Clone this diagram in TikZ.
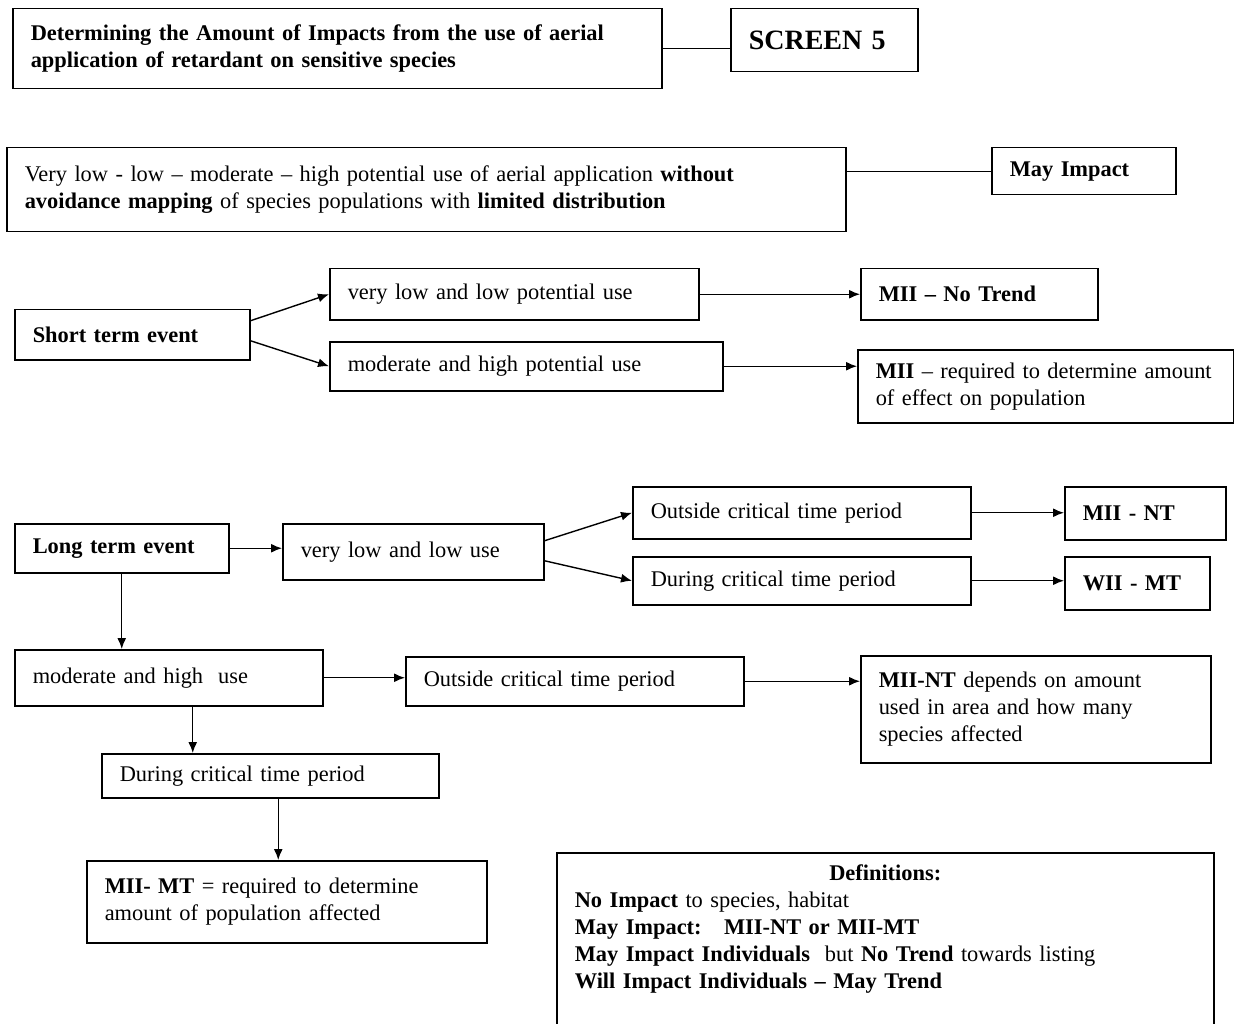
\documentclass[tikz,border=0pt]{standalone}
\usepackage{fontspec}
\setmainfont{Liberation Serif}
\usepackage{tikz}
\usetikzlibrary{positioning,arrows.meta}

\begin{document}
\begin{tikzpicture}[x=1pt,y=-1pt,
    box/.style={draw,line width=1.5pt,anchor=north west,align=left,
      inner xsep=18pt,inner ysep=4pt,font=\fontsize{22.4}{27}\selectfont},
    arr/.style={-{Latex[length=11pt,width=9pt]},line width=1.4pt},
    link/.style={line width=1.4pt}]
  \path[fill=white] (0,0) rectangle (1234,1024);
  \useasboundingbox (0,0) rectangle (1234,1024);
  % header
  \node[box,minimum width=649pt,minimum height=80pt,text width=613pt] (title) at (12,8)
    {\textbf{Determining the Amount of Impacts from the use of aerial}\\
     \textbf{application of retardant on sensitive species}};
  \node[box,minimum width=187pt,minimum height=63pt,text width=151pt,
    font=\fontsize{28}{32}\selectfont\bfseries] (screen) at (730,8) {SCREEN 5};
  \node[box,minimum width=839pt,minimum height=84pt,text width=803pt] (verylow) at (6,147)
    {Very low - low -- moderate -- high potential use of aerial application \textbf{without}\\
     \textbf{avoidance mapping} of species populations with \textbf{limited distribution}};
  \node[box,minimum width=184pt,minimum height=47pt,text width=148pt] (mayimp) at (991,147)
    {\textbf{May Impact}};
  % short term
  \node[box,minimum width=235pt,minimum height=50pt,text width=199pt] (short) at (14,309)
    {\textbf{Short term event}};
  \node[box,minimum width=369pt,minimum height=51pt,text width=333pt] (vlpot) at (329,268)
    {very low and low potential use};
  \node[box,minimum width=393pt,minimum height=49pt,text width=357pt] (mhpot) at (329,341)
    {moderate and high potential use};
  \node[box,minimum width=237pt,minimum height=51pt,text width=201pt] (notrend) at (860,268)
    {\textbf{MII -- No Trend}};
  \node[box,minimum width=376pt,minimum height=73pt,text width=356pt,inner xsep=10pt] (req) at (857,349)
    {\hspace*{8pt}\textbf{MII} -- required to determine amount\\\hspace*{8pt}of effect on population};
  % long term
  \node[box,minimum width=214pt,minimum height=49pt,text width=178pt] (long) at (14,523)
    {\textbf{Long term event}};
  \node[box,minimum width=261pt,minimum height=56pt,text width=225pt] (vlu) at (282,523)
    {very low and low use};
  \node[box,minimum width=338pt,minimum height=52pt,text width=302pt] (out1) at (632,486)
    {Outside critical time period};
  \node[box,minimum width=338pt,minimum height=48pt,text width=302pt] (dur1) at (632,556)
    {During critical time period};
  \node[box,minimum width=161pt,minimum height=53pt,text width=125pt] (mnt) at (1064,486)
    {\textbf{MII - NT}};
  \node[box,minimum width=145pt,minimum height=53pt,text width=109pt] (wmt) at (1064,556)
    {\textbf{WII - MT}};
  \node[box,minimum width=308pt,minimum height=56pt,text width=272pt] (mhu) at (14,649)
    {moderate and high\ \ use};
  \node[box,minimum width=338pt,minimum height=49pt,text width=302pt] (out2) at (405,656)
    {Outside critical time period};
  \node[box,minimum width=350pt,minimum height=107pt,text width=314pt] (dep) at (860,655)
    {\textbf{MII-NT} depends on amount\\used in area and how many\\species affected};
  \node[box,minimum width=337pt,minimum height=44pt,text width=301pt] (dur2) at (101,753)
    {During critical time period};
  \node[box,minimum width=400pt,minimum height=82pt,text width=364pt] (mmt) at (86,860)
    {\textbf{MII- MT} = required to determine\\amount of population affected};
  % definitions
  \node[box,minimum width=657pt,minimum height=190pt] (defs) at (556,852) {};
  \node[box,draw=none,anchor=north,text width=621pt,inner ysep=12pt] (defstext) at (defs.north)
    {\makebox[\linewidth]{\textbf{Definitions:}}\\
     \textbf{No Impact} to species, habitat\\
     \textbf{May Impact:\ \ \ MII-NT or MII-MT}\\
     \textbf{May Impact Individuals}\ \ but \textbf{No Trend} towards listing\\
     \textbf{Will Impact Individuals -- May Trend}};
  % links
  \draw[link] (title.east) -- (title.east -| screen.west);
  \draw[link] (mayimp.west -| verylow.east) -- (mayimp.west);
  % arrows
  \draw[arr] ([yshift=14pt]short.east) -- (vlpot.west);
  \draw[arr] ([yshift=-6pt]short.east) -- (mhpot.west);
  \draw[arr] ([yshift=11pt]vlu.east) -- (out1.west);
  \draw[arr] ([yshift=-9pt]vlu.east) -- (dur1.west);
  \foreach \a/\b in {vlpot/notrend,mhpot/req,long/vlu,out1/mnt,dur1/wmt,mhu/out2,out2/dep}
    \draw[arr] (\a.east) -- (\a.east -| \b.west);
  \draw[arr] (long.south) -- (long.south |- mhu.north);
  \draw[arr] ([xshift=24pt]mhu.south) -- ([xshift=24pt]mhu.south |- dur2.north);
  \draw[arr] ([xshift=8pt]dur2.south) -- ([xshift=8pt]dur2.south |- mmt.north);
\end{tikzpicture}
\end{document}
